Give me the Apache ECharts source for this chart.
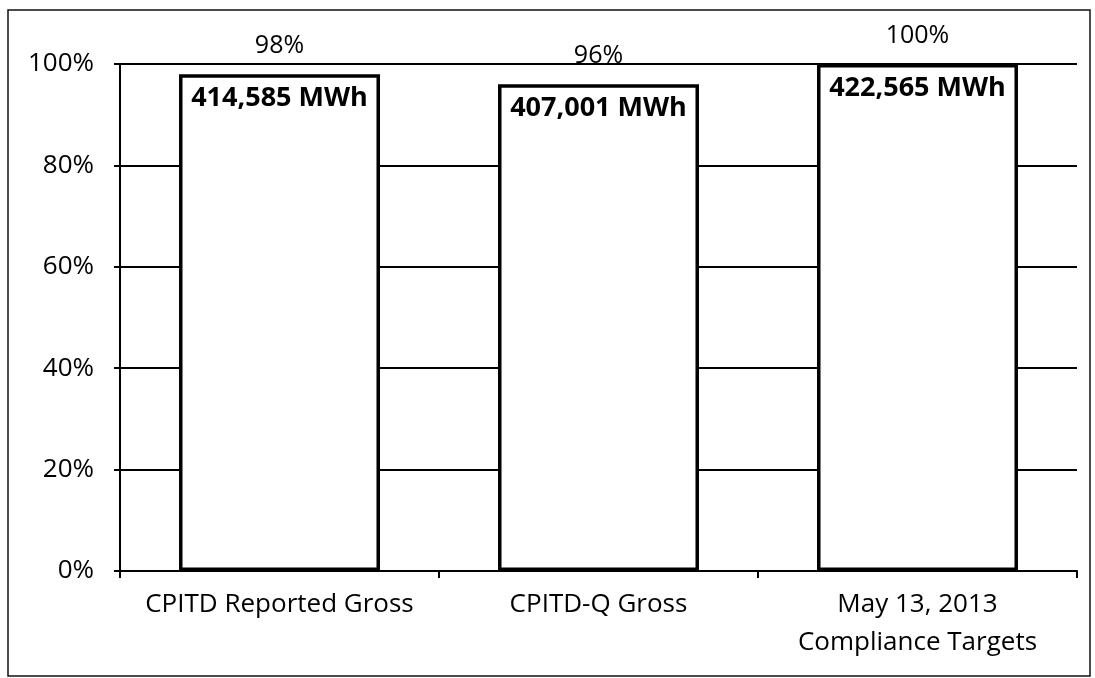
<!DOCTYPE html>
<html>
<head>
<meta charset="utf-8">
<script src="https://cdn.jsdelivr.net/npm/echarts@6/dist/echarts.min.js"></script>
<style>html,body{margin:0;padding:0;background:#fff;}#c{width:1095px;height:678px;}</style>
</head>
<body>
<div id="c"></div>
<script>
const categories = ['CPITD Reported Gross', 'CPITD-Q Gross', 'May 13, 2013\nCompliance Targets'];
const percentValues = [98, 96, 100];
const mwhValues = ['414,585', '407,001', '422,565'];
const yTicks = [0, 20, 40, 60, 80, 100];

const chart = echarts.init(document.getElementById('c'), null, {renderer: 'canvas'});
const font = '"Open Sans", "Noto Sans", sans-serif';
chart.setOption({
  animation: false,
  backgroundColor: '#fff',
  graphic: [{
    type: 'rect',
    shape: {x: 8, y: 10, width: 1082, height: 666},
    style: {fill: 'none', stroke: '#111', lineWidth: 1.5},
    silent: true
  }],
  grid: {left: 120, right: 18, top: 64, bottom: 107},
  xAxis: {
    type: 'category',
    data: categories,
    axisLine: {show: true, lineStyle: {color: '#000', width: 2}},
    axisTick: {show: true, length: 7, lineStyle: {color: '#000', width: 2}},
    axisLabel: {interval: 0, color: '#000', fontFamily: font, fontSize: 26, margin: 15, lineHeight: 38}
  },
  yAxis: {
    type: 'value',
    min: 0, max: 100, interval: 20,
    axisLine: {show: true, lineStyle: {color: '#000', width: 2}},
    axisTick: {show: true, length: 6, lineStyle: {color: '#000', width: 2}},
    splitLine: {show: true, lineStyle: {color: '#000', width: 2}},
    axisLabel: {color: '#000', fontFamily: font, fontSize: 26, margin: 26,
      formatter: v => yTicks.includes(v) ? v + '%' : ''}
  },
  series: [{
    type: 'bar',
    data: percentValues,
    barWidth: '63%',
    itemStyle: {color: '#fff', borderColor: '#000', borderWidth: 3.5},
    label: {show: true, position: 'top', distance: 16, color: '#000', fontFamily: font, fontSize: 25,
      formatter: p => p.value + '%'},
    z: 3
  }, {
    type: 'bar',
    data: percentValues,
    barWidth: '63%',
    barGap: '-100%',
    itemStyle: {color: 'rgba(0,0,0,0)'},
    label: {show: true, position: 'insideTop', distance: 11, color: '#000', fontFamily: font,
      fontSize: 27, fontWeight: 'bold', formatter: p => mwhValues[p.dataIndex] + ' MWh'},
    z: 4
  }]
});
</script>
</body>
</html>
